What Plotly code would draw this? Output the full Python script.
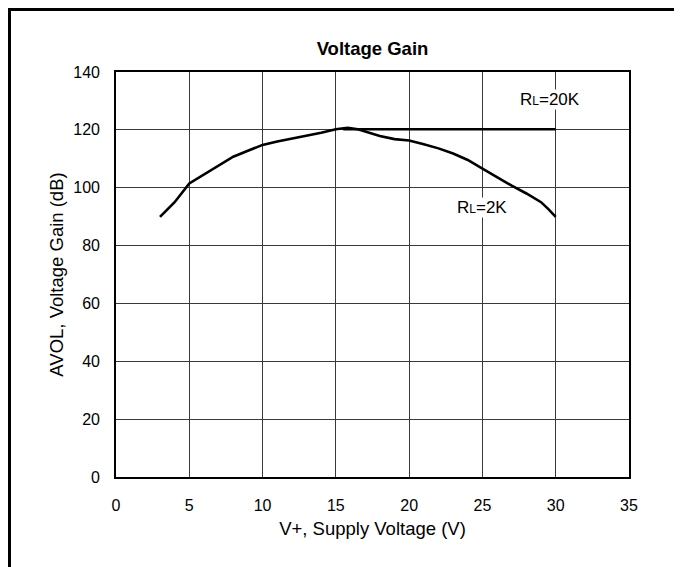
import plotly.graph_objects as go

# RL = 2K curve
v_2k = [3, 4, 5, 6, 7, 8, 9, 10, 11, 12, 13, 14, 15, 15.8, 16.5, 17, 18, 19, 19.6, 20, 21, 22, 23, 24, 25, 26, 27, 28, 29, 29.5, 30]
g_2k = [89.9, 95, 101.5, 104.6, 107.8, 110.7, 112.8, 114.8, 116, 117, 117.8, 119, 120.2, 120.7, 120.2, 119.5, 117.9, 116.8, 116.4, 116.3, 115, 113.6, 111.8, 109.6, 106.6, 103.6, 100.7, 98, 95, 92.6, 89.9]

# RL = 20K curve
v_20k = [15.5, 20, 25, 30]
g_20k = [120.2, 120.2, 120.2, 120.2]

x_ticks = [0, 5, 10, 15, 20, 25, 30, 35]
y_ticks = [0, 20, 40, 60, 80, 100, 120, 140]

font = "Liberation Sans, Arial, sans-serif"

W, H = 674, 559
L, T, PW, PH = 108, 64, 513, 405

fig = go.Figure()
fig.add_trace(go.Scatter(x=v_2k, y=g_2k, mode="lines", line=dict(color="black", width=2.6), showlegend=False))
fig.add_trace(go.Scatter(x=v_20k, y=g_20k, mode="lines", line=dict(color="black", width=2.6), showlegend=False))

fig.add_annotation(x=29.64, y=130.6, text="R<span style='font-size:12px'>L</span>=20K", showarrow=False,
                   font=dict(family=font, size=17, color="black"), bgcolor="white", borderpad=0)
fig.add_annotation(x=24.94, y=93.3, text="R<span style='font-size:12px'>L</span>=2K", showarrow=False,
                   font=dict(family=font, size=17, color="black"), bgcolor="white", borderpad=0)

# outer frame
fig.add_shape(type="rect", xref="paper", yref="paper",
              x0=(1.5 - L) / PW, x1=(667.5 - L) / PW,
              y0=(T + PH - 575) / PH, y1=(T + PH - 1.5) / PH,
              line=dict(color="black", width=3), layer="below")

fig.update_layout(
    width=W, height=H,
    margin=dict(l=L, r=W - L - PW, t=T, b=H - T - PH),
    paper_bgcolor="white", plot_bgcolor="white",
    font=dict(family=font, size=16, color="black"),
    title=dict(text="<b>Voltage Gain</b>", x=0.5, xref="paper", xanchor="center",
               y=1 - 40.5 / H, yanchor="middle",
               font=dict(family=font, size=18.5, color="black")),
    xaxis=dict(range=[0, 35], tickvals=x_ticks, showgrid=True, gridcolor="#3a3a3a", gridwidth=1,
               showline=True, linecolor="black", linewidth=1.6, mirror=True, ticks="", zeroline=False,
               tickfont=dict(size=16),
               title=dict(text="V+, Supply Voltage (V)", standoff=9, font=dict(size=18.5)),
               ticklabelstandoff=13),
    yaxis=dict(range=[0, 140], tickvals=y_ticks, showgrid=True, gridcolor="#3a3a3a", gridwidth=1,
               showline=True, linecolor="black", linewidth=1.6, mirror=True, ticks="", zeroline=False,
               tickfont=dict(size=16),
               title=dict(text="AVOL, Voltage Gain (dB)", standoff=5, font=dict(size=18.5)),
               ticklabelstandoff=11),
)

fig.write_html("out.html")
